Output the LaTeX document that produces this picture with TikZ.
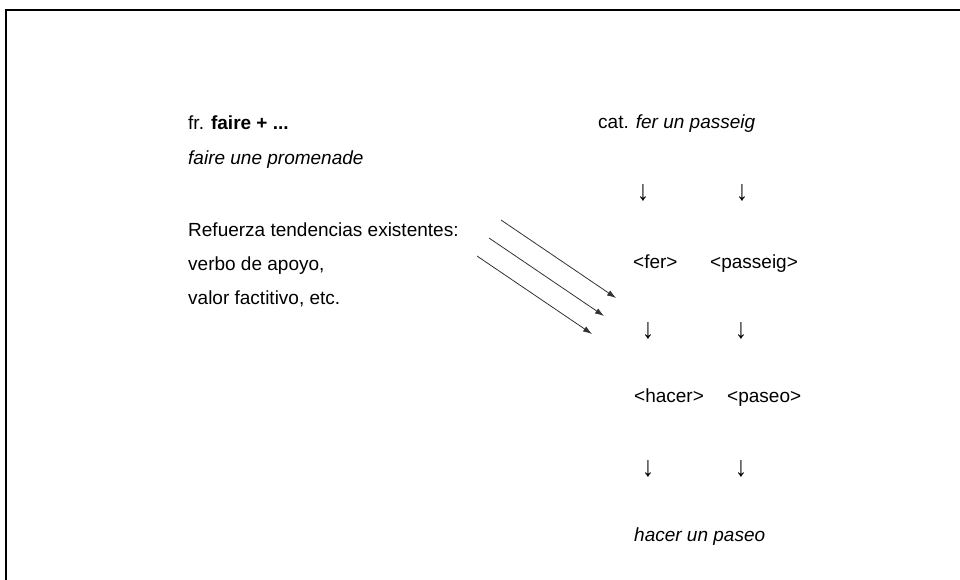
\documentclass[tikz,border=0pt]{standalone}
\usepackage{graphicx}
\usepackage{fontspec}
\setmainfont{Liberation Sans}
\usetikzlibrary{arrows.meta}
\newcommand{\tallarrow}{\scalebox{1.3}[1.5]{↓}}
\begin{document}
\begin{tikzpicture}[x=1pt,y=-1pt,
  txt/.style={anchor=base west,inner sep=0pt,font=\fontsize{19}{23}\selectfont},
  darr/.style={anchor=base,inner sep=0pt,font=\fontsize{19}{23}\selectfont},
  diag/.style={draw=black!80,line width=0.8pt,-{Latex[length=9pt,width=6pt]}},
  frame/.style={line width=2pt,draw=black}]
\useasboundingbox (0,0) rectangle (960,579);
\draw[frame] (6,590) -- (6,10) -- (970,10);
% left column
\node[txt] (fr) at (188,129) {fr. \textbf{faire + ...}};
\node[txt] (fp) at (188,164) {\itshape faire une promenade};
\node[txt] (ref) at (188,236) {Refuerza tendencias existentes:};
\node[txt] (vb) at (188,270) {verbo de apoyo,};
\node[txt] (vf) at (188,304) {valor factitivo, etc.};
% right column
\node[txt] (cat) at (598,128) {cat. \itshape fer un passeig};
\node[darr] (a1) at (643,200) {\tallarrow};
\node[darr] (a2) at (742,200) {\tallarrow};
\node[txt] (fer) at (633,268) {<fer>};
\node[txt] (pas) at (710,268) {<passeig>};
\node[darr] (b1) at (648,338) {\tallarrow};
\node[darr] (b2) at (741,338) {\tallarrow};
\node[txt] (hac) at (634,402) {<hacer>};
\node[txt] (pso) at (727,402) {<paseo>};
\node[darr] (c1) at (648,476) {\tallarrow};
\node[darr] (c2) at (741,476) {\tallarrow};
\node[txt] (hup) at (634,541) {\itshape hacer un paseo};
% diagonal arrows
\coordinate (s1) at (501,220); \coordinate (e1) at (616,298);
\coordinate (s2) at (489,238); \coordinate (e2) at (604,316);
\coordinate (s3) at (477,256); \coordinate (e3) at (592,334);
\draw[diag] (s1) -- (e1);
\draw[diag] (s2) -- (e2);
\draw[diag] (s3) -- (e3);
\end{tikzpicture}
\end{document}
